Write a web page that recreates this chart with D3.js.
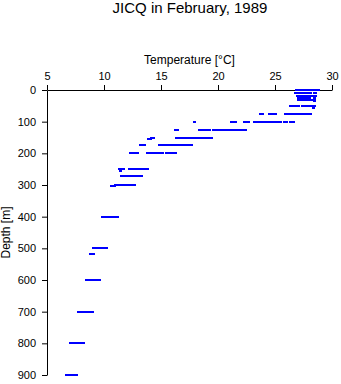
<!DOCTYPE html>
<html>
<head>
<meta charset="utf-8">
<script src="https://cdn.jsdelivr.net/npm/d3@7"></script>
<style>
  html, body { margin: 0; padding: 0; background: #fff; }
  svg { display: block; }
  text { font-family: "Liberation Sans", Arial, Helvetica, sans-serif; fill: #000; }
</style>
</head>
<body>
<div id="chart"></div>
<script>
// ---- data ----
const title = "JICQ in February, 1989";
const xLabel = "Temperature [\u00B0C]";
const yLabel = "Depth [m]";
const xTicks = [5, 10, 15, 20, 25, 30];
const yTicks = [0, 100, 200, 300, 400, 500, 600, 700, 800, 900];

// depth of each observation row (m)
const rowDepths = [0, 10, 20, 25, 30, 35, 50, 57, 75, 100, 125, 150, 155, 175, 200, 250, 255, 272, 300, 302, 400, 500, 518, 600, 700, 800, 900];
// temperatures observed at each row depth (°C)
const rowTemps = [
  [26.8, 27.0, 27.2, 27.4, 27.6, 27.8, 28.0, 28.2, 28.4, 28.55, 28.75],
  [26.75, 26.95, 27.15, 27.35, 27.55, 27.75, 27.95, 28.1, 28.4, 28.55],
  [26.9, 27.1, 27.3, 27.5, 27.7, 27.9, 28.1, 28.3, 28.5],
  [27.0, 27.2, 27.4, 27.6, 27.8, 28.0, 28.4],
  [27.0, 27.2, 27.4, 27.6, 27.85, 28.05, 28.2, 28.4],
  [28.4],
  [26.3, 26.5, 26.7, 26.9, 27.05, 27.35, 27.55, 27.75, 27.95, 28.1, 28.2, 28.45],
  [28.3],
  [23.65, 23.85, 24.45, 24.65, 24.85, 25.0, 25.9, 26.1, 26.3, 26.5, 26.7, 26.9, 27.1, 27.3, 27.5, 27.7, 27.9, 28.1],
  [17.9, 21.1, 21.3, 21.45, 22.25, 22.45, 22.65, 23.2, 23.4, 23.6, 23.8, 24.0, 24.2, 24.4, 24.65, 24.8, 25.0, 25.1, 25.3, 25.45, 25.8, 26.0, 26.3, 26.55],
  [16.2, 16.4, 18.3, 18.6, 18.75, 18.95, 19.1, 19.25, 19.6, 19.85, 20.0, 20.2, 20.35, 20.5, 20.6, 20.8, 20.95, 21.1, 21.3, 21.5, 21.7, 21.9, 22.1, 22.25, 22.4],
  [14.1, 14.3, 16.3, 16.5, 16.7, 16.9, 17.1, 17.3, 17.5, 17.7, 17.85, 18.0, 18.25, 18.45, 18.65, 18.85, 19.05, 19.25, 19.4],
  [13.85, 14.0],
  [13.2, 13.35, 13.55, 14.8, 15.0, 15.2, 15.4, 15.6, 15.8, 16.0, 16.15, 16.3, 16.5, 16.7, 16.9, 17.1, 17.3, 17.45, 17.6],
  [12.25, 12.45, 12.7, 12.9, 13.8, 14.0, 14.2, 14.4, 14.6, 14.8, 14.95, 15.1, 15.45, 15.65, 15.85, 16.05, 16.25],
  [11.35, 11.5, 11.65, 12.2, 12.4, 12.6, 12.8, 13.0, 13.2, 13.4, 13.6, 13.8],
  [11.4],
  [11.45, 11.65, 11.85, 12.05, 12.25, 12.45, 12.65, 12.85, 13.05, 13.25],
  [11.0, 11.2, 11.4, 11.6, 11.8, 12.0, 12.2, 12.4, 12.6],
  [10.65, 10.85],
  [9.8, 10.0, 10.2, 10.4, 10.6, 10.8, 11.0, 11.1],
  [9.05, 9.25, 9.45, 9.65, 9.85, 10.0, 10.2],
  [8.8, 9.0],
  [8.4, 8.6, 8.75, 8.95, 9.15, 9.35, 9.6],
  [7.75, 7.95, 8.1, 8.3, 8.5, 8.7, 8.95],
  [7.05, 7.3, 7.45, 7.65, 7.85, 8.05, 8.2],
  [6.65, 6.85, 7.05, 7.25, 7.45, 7.55]
];

// ---- layout ----
const W = 341, H = 384;
const mLeft = 47, mRight = 332, mTop = 90, mBottom = 375;

const svg = d3.select("#chart").append("svg")
  .attr("width", W).attr("height", H);

const x = d3.scaleLinear().domain([5, 30]).range([mLeft, mRight]);
const y = d3.scaleLinear().domain([0, 900]).range([mTop, mBottom]);

// title
svg.append("text")
  .attr("x", 190).attr("y", 13)
  .attr("text-anchor", "middle")
  .style("font-size", "15px")
  .text(title);

// x axis (top)
const gx = svg.append("g")
  .attr("transform", `translate(0,${mTop})`)
  .call(d3.axisTop(x).tickValues(xTicks).tickSize(5).tickSizeOuter(0).tickPadding(5.5).tickFormat(d3.format("d")));
gx.selectAll("text").style("font-size", "11px").style("font-family", "'Liberation Sans', Arial, sans-serif");

// y axis
const gy = svg.append("g")
  .attr("transform", `translate(${mLeft},0)`)
  .call(d3.axisLeft(y).tickValues(yTicks).tickSize(5).tickSizeOuter(0).tickPadding(6).tickFormat(d3.format("d")));
gy.selectAll("text").style("font-size", "11px").style("font-family", "'Liberation Sans', Arial, sans-serif");

svg.selectAll(".domain, .tick line").attr("stroke", "#000");

// axis labels
svg.append("text")
  .attr("x", (mLeft + mRight) / 2).attr("y", 64)
  .attr("text-anchor", "middle")
  .style("font-size", "12px")
  .text(xLabel);

svg.append("text")
  .attr("transform", `translate(10,${(mTop + mBottom) / 2}) rotate(-90)`)
  .attr("text-anchor", "middle")
  .style("font-size", "12px")
  .text(yLabel);

// points
const points = [];
rowDepths.forEach((d, i) => rowTemps[i].forEach(t => points.push({ depth: d, temp: t })));

svg.append("g")
  .selectAll("rect")
  .data(points)
  .join("rect")
  .attr("x", d => Math.round(x(d.temp)) - 1)
  .attr("y", d => Math.round(y(d.depth)) - 1)
  .attr("width", 3)
  .attr("height", 2)
  .attr("fill", "#0000ff");
</script>
</body>
</html>
